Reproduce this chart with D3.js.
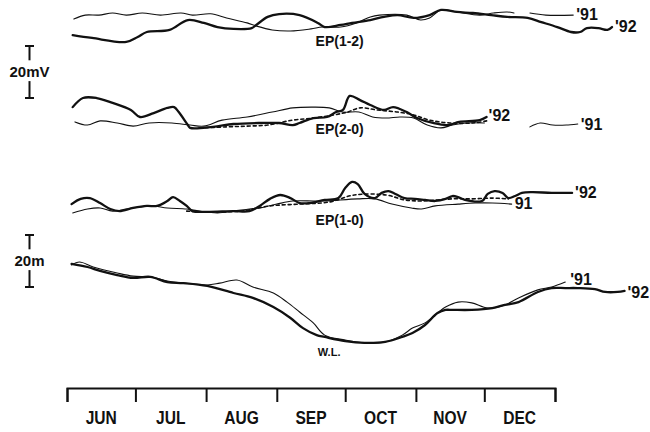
<!DOCTYPE html>
<html>
<head>
<meta charset="utf-8">
<script src="https://cdn.jsdelivr.net/npm/d3@7"></script>
<style>
body { margin: 0; background: #fff; }
svg { display: block; }
text { font-family: "Liberation Sans", Arial, Helvetica, sans-serif; fill: #111; }
</style>
</head>
<body>
<script>
// month names under the time axis
var months = ["JUN", "JUL", "AUG", "SEP", "OCT", "NOV", "DEC"];

// every series is [days since 1 June, value]; null marks a gap in the record
// EP(1-2), mV
var ep12_91 = [[3,10],[8,11.5],[14,11.5],[20,12.3],[26,11.5],[33,12.3],[41,11.5],[50,12.3],[55,11.5],[63,12],[70,10.4],[79,8.5],[83,7.3],[90,5.8],[98,5.4],[107,6.2],[112,6.9],[120,6.9],[127,8.5],[133,10.8],[137,11.5],[149,11.5],[155,9.6],[159,10.4],[164,13.5],[171,12.7],[181,11.5],[187,12.3],[193,12.7],[196,12.3],[199,null],[203,12.3],[210,11.5],[222,11.5]];
var ep12_92 = [[2.5,3.8],[11,2.7],[26,1.2],[31,3.1],[35,5],[45,5.8],[53,9.6],[60,8.5],[66,6.9],[73,6.2],[81,6.5],[83,7.7],[88,10.8],[93,11.9],[102,11.5],[110,8.5],[113,6.9],[120,7.7],[125,8.5],[133,9.6],[139,10.8],[145,11.5],[152,10.4],[159,11.5],[164,13.5],[171,12.7],[178,12.3],[186,11.5],[193,10.8],[202,10.4],[208,8.8],[215,6.9],[221,5],[225,5],[228,6.5],[233,6.5],[237,5.8],[239,6.9]];

// EP(2-0), mV
var ep20_91 = [[3.5,3.1],[9,1.9],[14.5,3.5],[22,2.7],[29,1.5],[36,2.7],[46,2.7],[54,1.9],[60,1.5],[68,3.8],[79,5],[90,6.9],[99,8.5],[108,8.8],[115,8.5],[121,6.9],[128,6.9],[134,5],[140,4.6],[146,5],[152,4.6],[158,1.9],[164,0.8],[169,1.9],[175,2.7],[183,2.7],[190,null],[203,1.2],[207.5,2.7],[213,1.9],[219,1.9],[224,2.3]];
var ep20_92 = [[2.5,8.8],[7,12.3],[13,12.3],[20,10.4],[28,7.7],[32,5],[38,6.5],[44,8.5],[47,8.8],[49,6.9],[53,1.9],[54,0.8],[64,1.2],[73,2.3],[85,2.7],[93,2.7],[99,1.9],[102,2.7],[108,4.6],[114,5],[118,6.9],[121,7.7],[124,13.1],[128.5,11.5],[133,9.6],[139,7.7],[143,8.8],[149,6.9],[153.5,4.6],[160.5,2.7],[167,1.9],[172,3.1],[181,3.8],[184,5]];
var ep20_dash = [[58,0.8],[70,1.2],[79,1.5],[88,1.9],[99,3.8],[108,4.6],[117,5.8],[123,6.9],[128.5,8.5],[136,7.7],[145,6.9],[152,5.8],[159,3.8],[168,2.7],[178,2.7],[184,3.5]];

// EP(1-0), mV
var ep10_91 = [[2.5,0.8],[9,2.3],[14.5,2.7],[20,1.5],[26,2.3],[32,3.1],[37.5,3.5],[44,2.7],[52.5,2.3],[58,1.5],[66,0.8],[73,1.5],[80,2.3],[84.5,2.7],[92,4.2],[99,5.4],[108,5.4],[113,5.4],[127.5,6.2],[135,6.2],[142.5,4.2],[151,2.7],[155.5,2.3],[161.5,3.5],[171.5,4.2],[179,4.6],[186.5,4.6],[195,4.2]];
var ep10_92 = [[2,4.2],[6,6.2],[10,6.5],[14.5,4.6],[19,2.3],[23,1.5],[29,2.7],[35,3.5],[39.5,3.5],[44,5.4],[46.5,6.9],[49.5,5.4],[52.5,3.5],[55,1.5],[61,1.2],[73,1.5],[80,1.5],[84.5,3.5],[89,6.2],[93.5,7.7],[98,6.5],[102,4.6],[106.5,4.6],[113,5.8],[119,6.5],[122,10.4],[125,12.7],[127.5,11.9],[130.5,8.1],[135,6.5],[138,8.5],[141,9.2],[144,8.1],[148,6.5],[152.5,6.2],[157,5.8],[161.5,5.4],[166,6.2],[169,7.3],[171.5,6.9],[174.5,5.8],[182,5.4],[184.5,8.1],[187.5,9.2],[191,8.5],[193.5,6.5],[196.5,7.3],[199.5,8.5],[204,8.8],[212.5,8.5],[221.5,8.5]];
var ep10_dash = [[52.5,1.5],[63,1.2],[76,1.5],[89,3.5],[102,4.2],[115,5],[126,7.7],[140,7.7],[148,5.8],[156,5.4],[169,6.2],[177.5,6.2],[186.5,6.5],[193.5,6.2]];

// water level, m above the lowest stage
var wl_91 = [[2,30.8],[5.5,31.9],[11.5,30],[22,27.7],[29,26.5],[36.5,26.2],[44,24.6],[51,23.8],[61.5,23.1],[67,23.8],[74.5,25],[81.5,22.3],[90.5,20],[96.5,16.5],[102,12.7],[108,8.5],[113,3.8],[122,1.9],[130.5,0.8],[139.5,1.2],[147,3.8],[151.5,6.5],[157,8.5],[162.5,12.3],[166,14.6],[171.5,16.5],[177.5,16.2],[184.5,14.2],[192,15.4],[198,18.1],[206.5,21.2],[212.5,22.3],[218.5,24.2]];
var wl_92 = [[2,31.2],[9,30],[14.5,28.5],[22,26.9],[29,25.8],[36.5,26.2],[44,24.2],[51,23.8],[61.5,22.7],[73,20],[81.5,18.1],[90.5,14.6],[98,10.4],[103.5,6.5],[109.5,3.8],[113,3.1],[122,1.5],[130.5,0.8],[139.5,1.2],[147,3.1],[151.5,4.6],[157,7.7],[162.5,12.3],[166,13.5],[169,13.5],[177.5,13.5],[186.5,14.2],[192,15.4],[198,16.5],[206.5,20.4],[212.5,21.9],[218.5,21.9],[224,21.9],[231.5,21.5],[236,20.4],[241.5,20.4],[244.5,20.8]];

var w = 650, h = 432;
var start = new Date(1991, 5, 1);
var end = new Date(1992, 0, 1);
var axisY = 388;

var svg = d3.select("body").append("svg")
    .attr("width", w)
    .attr("height", h);

var x = d3.scaleTime().domain([start, end]).range([67, 555]);
function day(d) { return new Date(+start + d * 864e5); }

// each panel: 20 units = 52 px, zero at its own base line
function panelScale(base) {
    return d3.scaleLinear().domain([0, 20]).range([base, base - 52]);
}
var yEP12 = panelScale(45);
var yEP20 = panelScale(130);
var yEP10 = panelScale(215);
var yWL = panelScale(345);

function drawSeries(data, y, kind) {
    var line = d3.line()
        .defined(function(d) { return d[1] != null; })
        .x(function(d) { return x(day(d[0])); })
        .y(function(d) { return y(d[1]); })
        .curve(d3.curveCatmullRom.alpha(0.5));
    var p = svg.append("path")
        .datum(data)
        .attr("d", line)
        .attr("fill", "none")
        .attr("stroke", "#111")
        .attr("stroke-linejoin", "round")
        .attr("stroke-linecap", "round");
    if (kind == "thick") p.attr("stroke-width", 2.3);
    else if (kind == "thin") p.attr("stroke-width", 1.1);
    else p.attr("stroke-width", 1.6).attr("stroke-dasharray", "3,3");
}

drawSeries(ep12_91, yEP12, "thin");
drawSeries(ep12_92, yEP12, "thick");
drawSeries(ep20_dash, yEP20, "dash");
drawSeries(ep20_91, yEP20, "thin");
drawSeries(ep20_92, yEP20, "thick");
drawSeries(ep10_dash, yEP10, "dash");
drawSeries(ep10_91, yEP10, "thin");
drawSeries(ep10_92, yEP10, "thick");
drawSeries(wl_91, yWL, "thin");
drawSeries(wl_92, yWL, "thick");

// year tags at the end of each curve
function endTag(data, y, label, dx, dy) {
    var last = data[data.length - 1];
    svg.append("text")
        .attr("x", x(day(last[0])) + dx)
        .attr("y", y(last[1]) + dy)
        .attr("font-size", "16px")
        .attr("font-weight", "bold")
        .text(label);
}
endTag(ep12_91, yEP12, "'91", 3, 5);
endTag(ep12_92, yEP12, "'92", 3, 5);
endTag(ep20_92, yEP20, "'92", 2, 4);
endTag(ep20_91, yEP20, "'91", 3, 6);
endTag(ep10_92, yEP10, "'92", 3, 5);
endTag(ep10_91, yEP10, "91", 3, 5);
endTag(wl_91, yWL, "'91", 5, 3);
endTag(wl_92, yWL, "'92", 3, 7);

// panel names
var panelNames = [["EP(1-2)", yEP12, 1], ["EP(2-0)", yEP20, 4], ["EP(1-0)", yEP10, 10]];
panelNames.forEach(function(p) {
    svg.append("text")
        .attr("x", x(day(109)))
        .attr("y", p[1](0) + p[2])
        .attr("font-size", "14px")
        .attr("font-weight", "bold")
        .text(p[0]);
});
svg.append("text")
    .attr("x", x(day(110)))
    .attr("y", yWL(0) + 11)
    .attr("font-size", "11px")
    .attr("font-weight", "bold")
    .text("W.L.");

// 20 mV and 20 m scale bars
function scaleBar(bottom, label) {
    var s = d3.scaleLinear().domain([0, 20]).range([bottom, bottom - 52]);
    var g = svg.append("g").attr("stroke", "#111").attr("stroke-width", 2);
    g.append("line").attr("x1", 25).attr("x2", 34).attr("y1", s(20)).attr("y2", s(20));
    g.append("line").attr("x1", 29.5).attr("x2", 29.5).attr("y1", s(20)).attr("y2", s(14.5));
    g.append("line").attr("x1", 29.5).attr("x2", 29.5).attr("y1", s(6.5)).attr("y2", s(0));
    g.append("line").attr("x1", 25).attr("x2", 34).attr("y1", s(0)).attr("y2", s(0));
    svg.append("text")
        .attr("x", 29.5)
        .attr("y", s(10) + 5)
        .attr("text-anchor", "middle")
        .attr("font-size", "15px")
        .attr("font-weight", "bold")
        .text(label);
}
scaleBar(98, "20mV");
scaleBar(287, "20m");

// time axis with month boundaries
var xAxis = d3.axisBottom(x)
    .ticks(d3.timeMonth.every(1))
    .tickSizeInner(14)
    .tickSizeOuter(14)
    .tickFormat("");

var ax = svg.append("g")
    .attr("transform", "translate(0," + axisY + ")")
    .call(xAxis);
ax.select(".domain").attr("stroke", "#111").attr("stroke-width", 2);
ax.selectAll(".tick line").attr("stroke", "#111").attr("stroke-width", 2);

svg.selectAll(".month")
    .data(months)
    .enter()
    .append("text")
    .attr("class", "month")
    .attr("text-anchor", "middle")
    .attr("font-size", "19px")
    .attr("font-weight", "bold")
    .attr("transform", function(d, i) {
        var a = d3.timeMonth.offset(start, i), b = d3.timeMonth.offset(start, i + 1);
        var cx = (x(a) + x(b)) / 2;
        return "translate(" + cx + "," + (axisY + 36) + ") scale(0.82,1)";
    })
    .text(function(d) { return d; });
</script>
</body>
</html>
